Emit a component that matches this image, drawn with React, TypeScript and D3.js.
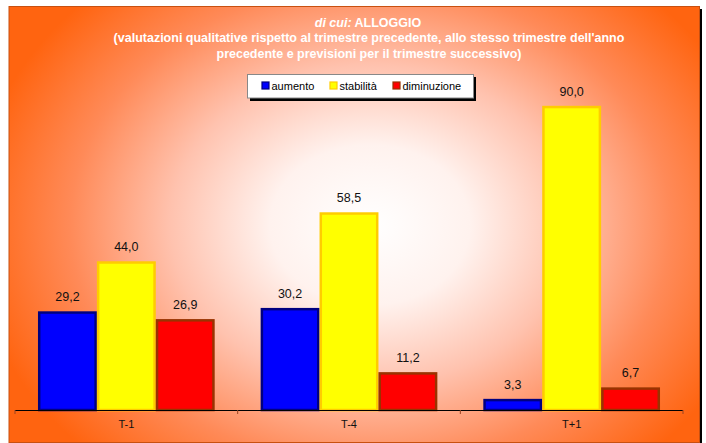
import * as d3 from 'd3'

const categories = ['T-1', 'T-4', 'T+1']
const seriesNames = ['aumento', 'stabilità', 'diminuzione']
const aumento = [29.2, 30.2, 3.3]
const stabilita = [44.0, 58.5, 90.0]
const diminuzione = [26.9, 11.2, 6.7]

const fills = ['#0000FF', '#FFFF00', '#FF0000']
const strokes = ['#000080', '#FFCC00', '#993300']

const W = 706
const H = 443

export default function App() {
  const values = [aumento, stabilita, diminuzione]

  const x = d3.scaleBand<string>().domain(categories).range([15, 683]).padding(0)
  const xs = d3
    .scaleBand<string>()
    .domain(seriesNames)
    .range([0, x.bandwidth()])
    .paddingInner(0)
    .paddingOuter(0.39)
  const y = d3.scaleLinear().domain([0, 100]).range([410, 72])

  const fmt = (v: number) => d3.format('.1f')(v).replace('.', ',')
  const font = 'Arial, "Liberation Sans", sans-serif'

  const legendItems = [
    { name: 'aumento', x: 262 },
    { name: 'stabilità', x: 330 },
    { name: 'diminuzione', x: 393 },
  ]

  return (
    <svg
      width={W}
      height={H}
      style={{ position: 'absolute', left: 0, top: 0, fontFamily: font }}
    >
      <defs>
        <radialGradient id="bg" gradientUnits="userSpaceOnUse" cx={370} cy={225} r={400}
          gradientTransform="translate(370 225) scale(1 0.8) translate(-370 -225)">
          <stop offset="0" stopColor="#FFFFFF" />
          <stop offset="0.25" stopColor="#FFF2EE" />
          <stop offset="0.5" stopColor="#FFC2AE" />
          <stop offset="0.75" stopColor="#FF8A58" />
          <stop offset="1" stopColor="#FF6410" />
        </radialGradient>
      </defs>
      <rect x={0} y={0} width={W} height={H} fill="#fff" />
      <rect x={11} y={9} width={691} height={436} fill="#000" />
      <rect x={9} y={6.5} width={690.5} height={436} fill="url(#bg)" stroke="#C85010" strokeWidth={1} />

      <text x={368} y={27} textAnchor="middle" fill="#fff" fontWeight="bold" fontSize={12.5}>
        <tspan fontStyle="italic">di cui:</tspan> ALLOGGIO
      </text>
      <text x={369} y={42} textAnchor="middle" fill="#fff" fontWeight="bold" fontSize={12.5}>
        (valutazioni qualitative rispetto al trimestre precedente, allo stesso trimestre dell'anno
      </text>
      <text x={369} y={58} textAnchor="middle" fill="#fff" fontWeight="bold" fontSize={12.5}>
        precedente e previsioni per il trimestre successivo)
      </text>

      <rect x={250} y={77} width={226} height={24} fill="#000" />
      <rect x={247.5} y={74.5} width={226} height={23.5} fill="#fff" stroke="#888" strokeWidth={1} />
      {legendItems.map((d, i) => (
        <g key={d.name}>
          <rect x={d.x} y={82} width={7} height={7} fill={fills[i]} stroke={strokes[i]} strokeWidth={1.2} />
          <text x={d.x + 9.5} y={90} fontSize={11} fill="#000">
            {d.name}
          </text>
        </g>
      ))}

      {categories.map((c, ci) => (
        <g key={c} transform={`translate(${x(c)},0)`}>
          {seriesNames.map((s, si) => {
            const v = values[si][ci]
            const bx = xs(s)!
            const top = y(v)
            return (
              <g key={s}>
                <rect
                  x={bx + 1.25}
                  y={top + 1.25}
                  width={xs.bandwidth() - 2.5}
                  height={y(0) - top - 1.25}
                  fill={fills[si]}
                  stroke={strokes[si]}
                  strokeWidth={2.5}
                />
                <text
                  x={bx + xs.bandwidth() / 2}
                  y={top - 10}
                  textAnchor="middle"
                  fontSize={12.5}
                  fill="#111"
                >
                  {fmt(v)}
                </text>
              </g>
            )
          })}
          <text x={x.bandwidth() / 2} y={428} textAnchor="middle" fontSize={11} fill="#111">
            {c}
          </text>
        </g>
      ))}

      <line x1={15} x2={683} y1={410.5} y2={410.5} stroke="#000" strokeWidth={1.2} />
      {[...categories.map((c) => x(c)!), 683].map((tx, i) => (
        <line key={i} x1={tx} x2={tx} y1={410} y2={414} stroke="#994422" strokeWidth={1} />
      ))}
    </svg>
  )
}
